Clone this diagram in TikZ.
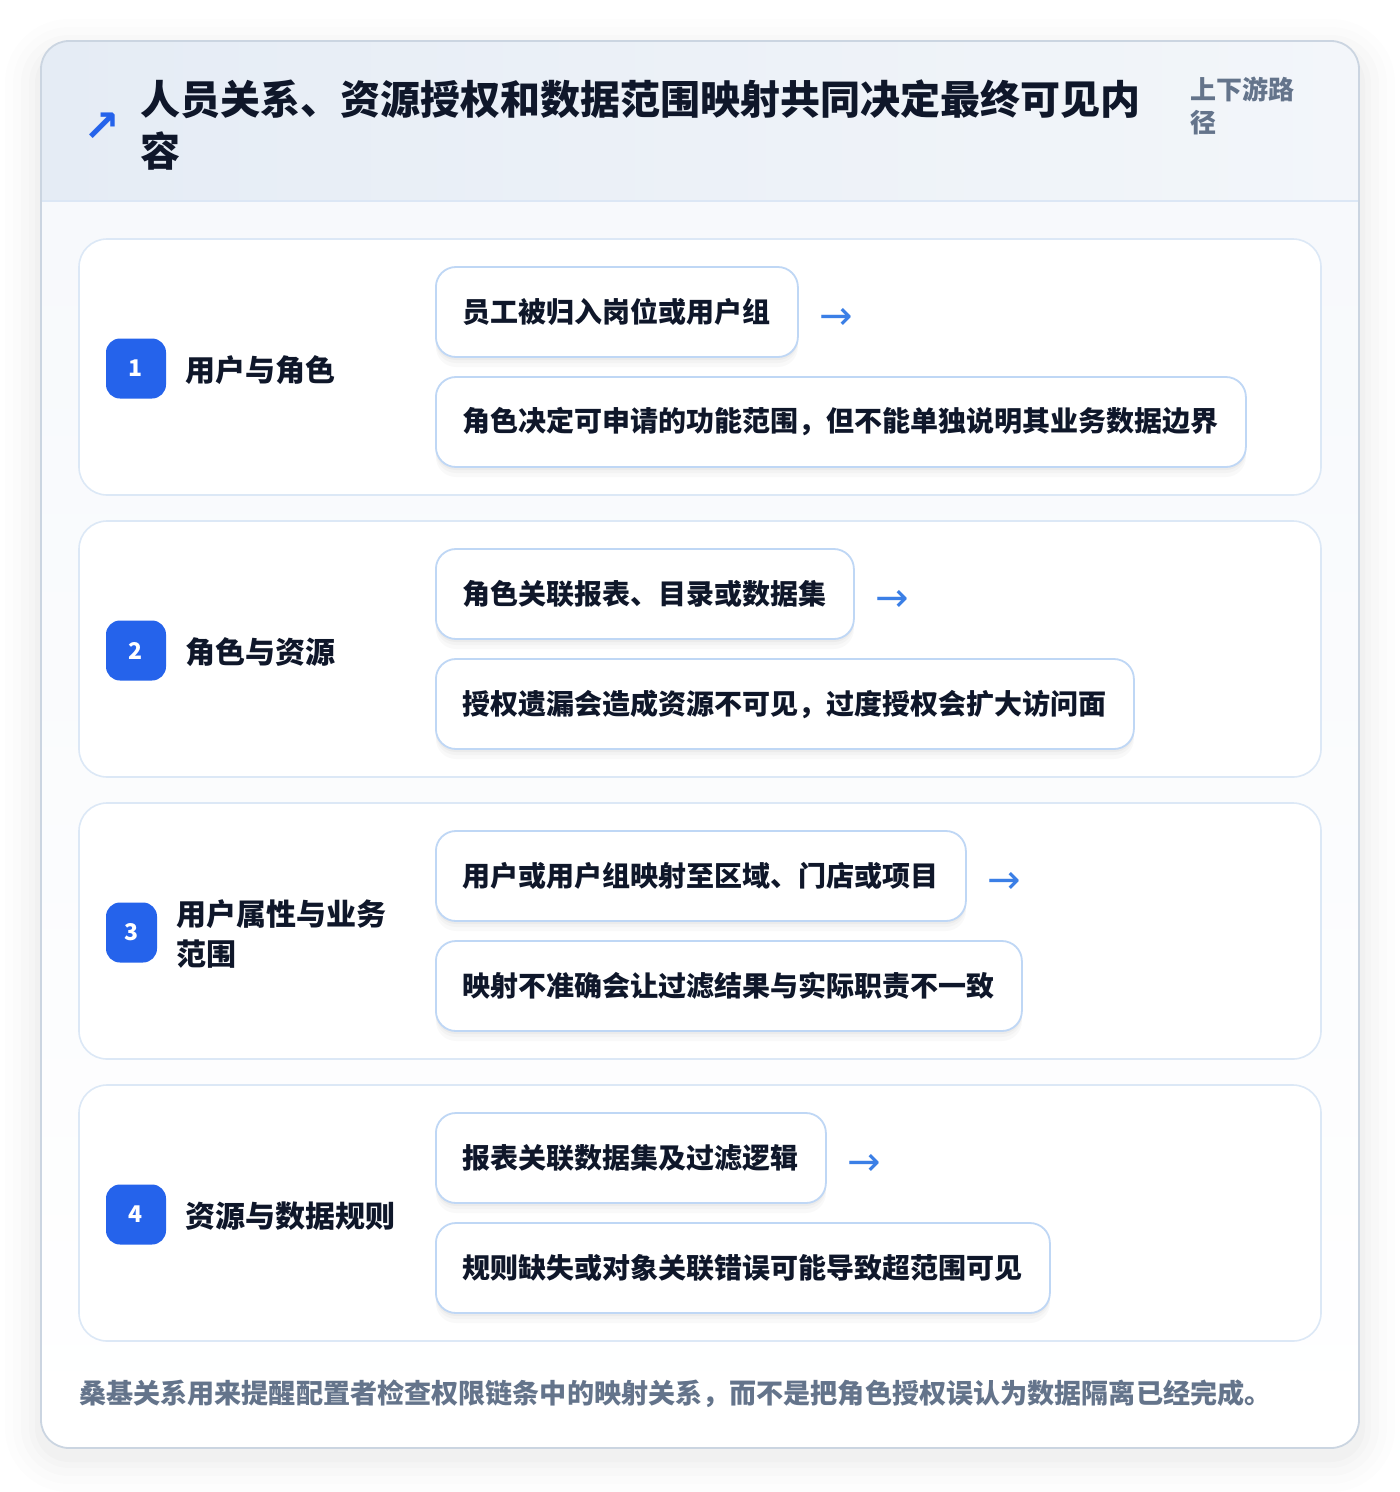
\documentclass[tikz,border=0pt]{standalone}
\usepackage{fontspec}
\setmainfont{Noto Sans CJK SC}
\newfontfamily\symfont{DejaVu Sans}
\definecolor{ink}{HTML}{0F172A}
\definecolor{muted}{HTML}{64748B}
\definecolor{badgeblue}{HTML}{2563EB}
\definecolor{arrowblue}{HTML}{3B7FE6}
\definecolor{rowborder}{HTML}{DCE8F6}
\definecolor{boxborder}{HTML}{BFD7F5}
\definecolor{cardborder}{HTML}{CBD5E1}
\definecolor{headL}{HTML}{E5ECF5}
\definecolor{headR}{HTML}{F3F6FA}
\definecolor{bodybg}{HTML}{F7F9FC}
\definecolor{headline}{HTML}{DCE7F5}
\tikzset{
  rowcard/.style={draw=rowborder, line width=1.6pt, fill=white, rounded corners=28pt},
  stepbox/.style={draw=boxborder, line width=1.8pt, fill=white, rounded corners=20pt,
    minimum height=90pt, inner xsep=27pt, anchor=west, text=ink,
    font=\fontsize{28}{34}\selectfont\bfseries,
    preaction={fill=black, fill opacity=0.025, draw=none, transform canvas={yshift=-10pt}},
    preaction={fill=black, fill opacity=0.025, draw=none, transform canvas={yshift=-6pt}},
    preaction={fill=black, fill opacity=0.03, draw=none, transform canvas={yshift=-3pt}}},
  badge/.style={fill=badgeblue, rounded corners=14pt, minimum height=60pt, text=white,
    font=\fontsize{23}{26}\selectfont\bfseries, inner sep=0pt},
  rowlabel/.style={anchor=west, text=ink, font=\fontsize{30}{40}\selectfont\bfseries, align=left, inner sep=0pt},
  flowarrow/.style={anchor=west, text=arrowblue, font=\symfont\fontsize{40}{40}\selectfont, inner sep=0pt},
}
\begin{document}
\begin{tikzpicture}[x=1pt,y=-1pt]
\useasboundingbox (0,0) rectangle (1400,1492);
\fill[white] (0,0) rectangle (1400,1492);
% outer card shadow
\foreach \i/\o in {36/0.006,28/0.008,20/0.010,12/0.012,6/0.015}{
  \fill[black,opacity=\o,rounded corners=28pt+\i pt] (41-\i,41-\i+14) rectangle (1359+\i,1448+\i+8);
}
% outer card
\begin{scope}
  \clip[rounded corners=28pt] (41,41) rectangle (1359,1448);
  \shade[top color=bodybg, bottom color=white] (41,201) rectangle (1359,1448);
  \shade[left color=headL, right color=headR] (41,41) rectangle (1359,201);
  \draw[headline, line width=1.6pt] (41,201) -- (1359,201);
\end{scope}
\draw[cardborder, line width=1.8pt, rounded corners=28pt] (41,41) rectangle (1359,1448);

% header
\node[anchor=center, text=badgeblue, font=\symfont\bfseries\fontsize{44}{44}\selectfont, inner sep=0pt] (icon) at (102,127) {↗};
\node[anchor=north west, text=ink, font=\fontsize{40}{52}\selectfont\bfseries, align=left, inner sep=0pt] (title) at (140,80)
  {人员关系、资源授权和数据范围映射共同决定最终可见内\\容};
\node[anchor=north west, text=muted, font=\fontsize{26}{33}\selectfont\bfseries, align=left, inner sep=0pt] (tag) at (1190,77)
  {上下游路\\径};

% rows
\foreach \y in {239,521,803,1085}{
  \draw[rowcard] (79,\y) rectangle (1321,\y+256);
}

% row 1
\node[badge, minimum width=60pt] (b1) at (136,368.5) {1};
\node[rowlabel] (l1) at (185,370) {用户与角色};
\node[stepbox] (r1a) at (435,312) {员工被归入岗位或用户组};
\node[stepbox] (r1b) at (435,422) {角色决定可申请的功能范围，但不能单独说明其业务数据边界};
\node[flowarrow] (a1) at (819,319) {→};

% row 2
\node[badge, minimum width=60pt] (b2) at (136,650.5) {2};
\node[rowlabel] (l2) at (185,652) {角色与资源};
\node[stepbox] (r2a) at (435,594) {角色关联报表、目录或数据集};
\node[stepbox] (r2b) at (435,704) {授权遗漏会造成资源不可见，过度授权会扩大访问面};
\node[flowarrow] (a2) at (875,601) {→};

% row 3
\node[badge, minimum width=51pt] (b3) at (131.5,932.5) {3};
\node[rowlabel] (l3) at (176,934) {用户属性与业务\\范围};
\node[stepbox] (r3a) at (435,876) {用户或用户组映射至区域、门店或项目};
\node[stepbox] (r3b) at (435,986) {映射不准确会让过滤结果与实际职责不一致};
\node[flowarrow] (a3) at (987,883) {→};

% row 4
\node[badge, minimum width=60pt] (b4) at (136,1214.5) {4};
\node[rowlabel] (l4) at (185,1216) {资源与数据规则};
\node[stepbox] (r4a) at (435,1158) {报表关联数据集及过滤逻辑};
\node[stepbox] (r4b) at (435,1268) {规则缺失或对象关联错误可能导致超范围可见};
\node[flowarrow] (a4) at (847,1165) {→};

% footer
\node[anchor=west, text=muted, font=\fontsize{27.1}{32}\selectfont\bfseries, inner sep=0pt] (foot) at (79,1394)
  {桑基关系用来提醒配置者检查权限链条中的映射关系，而不是把角色授权误认为数据隔离已经完成。};
\end{tikzpicture}
\end{document}
